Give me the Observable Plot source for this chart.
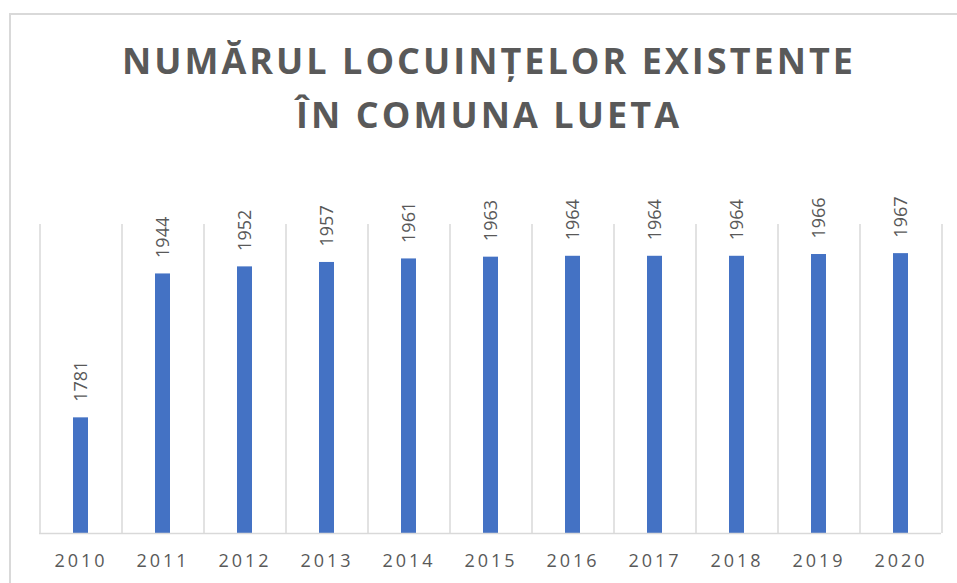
<!DOCTYPE html>
<html>
<head>
<meta charset="utf-8">
<script src="https://cdn.jsdelivr.net/npm/d3@7"></script>
<script src="https://cdn.jsdelivr.net/npm/@observablehq/plot@0.6"></script>
<style>
  html, body { margin: 0; padding: 0; background: #fff; }
  #wrap { position: relative; width: 957px; height: 583px; overflow: hidden; background: #fff; font-family: "Open Sans", sans-serif; }
  #border { position: absolute; left: 9px; top: 13px; width: 1000px; height: 700px; border-left: 2px solid #d9d9d9; border-top: 2px solid #d9d9d9; }
  #title { position: absolute; left: 0; top: 0; }
  #chart { position: absolute; left: 0; top: 150px; }
  #chart svg [aria-label="x-axis tick label"] text { letter-spacing: 3px; }
</style>
</head>
<body>
<div id="wrap">
  <div id="border"></div>
  <svg id="title" width="957" height="150"></svg>
  <div id="chart"></div>
</div>
<script>
const titleLines = ["NUMĂRUL LOCUINȚELOR EXISTENTE", "ÎN COMUNA LUETA"];
const years = ["2010","2011","2012","2013","2014","2015","2016","2017","2018","2019","2020"];
const values = [1781, 1944, 1952, 1957, 1961, 1963, 1964, 1964, 1964, 1966, 1967];
const yDomain = [1650, 2000];

const data = years.map((y, i) => ({year: y, value: values[i]}));

// Title
const tsvg = d3.select("#title");
const titleSpecs = [
  {text: titleLines[0], y: 74, len: 731},
  {text: titleLines[1], y: 128, len: 383}
];
titleSpecs.forEach(s => {
  tsvg.append("text")
    .attr("x", 487.5)
    .attr("y", s.y)
    .attr("text-anchor", "middle")
    .attr("font-family", "'Open Sans', sans-serif")
    .attr("font-weight", 700)
    .attr("font-size", 36)
    .attr("fill", "#595959")
    .attr("textLength", s.len)
    .attr("lengthAdjust", "spacing")
    .text(s.text);
});

const W = 957, H = 433;
const mL = 39, mR = 16;
const step = (W - mL - mR) / years.length;

const chart = Plot.plot({
  width: W,
  height: H,
  marginTop: 74,
  marginBottom: 50,
  marginLeft: mL,
  marginRight: mR,
  style: {fontFamily: "'Open Sans', sans-serif", background: "transparent", overflow: "visible"},
  x: {domain: years, paddingInner: 0.82, paddingOuter: 0.41, label: null},
  y: {domain: yDomain, axis: null},
  marks: [
    Plot.ruleX(years, {x: d => d, y1: yDomain[0], y2: yDomain[1], dx: -step / 2, stroke: "#d9d9d9", strokeWidth: 1.5}),
    Plot.ruleX(years.slice(-1), {x: d => d, y1: yDomain[0], y2: yDomain[1], dx: step / 2, stroke: "#d9d9d9", strokeWidth: 1.5}),
    Plot.barY(data, {x: "year", y1: yDomain[0], y2: "value", fill: "#4472C4"}),
    Plot.ruleY([yDomain[0]], {stroke: "#d9d9d9", strokeWidth: 1.5}),
    Plot.text(data, {x: "year", y: "value", text: d => String(d.value), rotate: -90, textAnchor: "start", dy: -16, fontSize: 18, fill: "#595959"}),
    Plot.axisX({tickSize: 0, tickPadding: 21, fontSize: 18, color: "#595959"})
  ]
});
document.getElementById("chart").appendChild(chart);
</script>
</body>
</html>
